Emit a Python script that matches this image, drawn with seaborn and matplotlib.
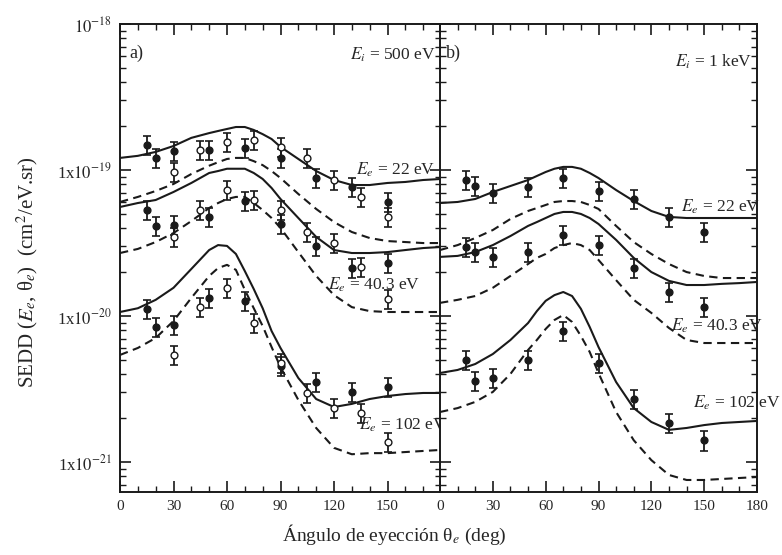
import numpy as np
import matplotlib
matplotlib.use("Agg")
import matplotlib.pyplot as plt
import seaborn as sns
from matplotlib.ticker import FixedLocator, FixedFormatter, MultipleLocator, LogLocator, NullFormatter

# ---------------- data (SEDD in units of 1e-20 cm^2/eV.sr) ----------------
theta_curve = [0, 10, 20, 30, 40, 50, 55, 60, 65, 70, 75, 80, 85, 90,
               100, 110, 120, 130, 140, 150, 160, 170, 180]

# panel a) Ei = 500 eV
a22_solid = [12.1, 12.5, 13.3, 14.6, 16.6, 17.9, 18.5, 19.1, 19.7, 19.7, 18.8, 17.6, 16.3, 14.4,
             11.9, 9.84, 8.54, 7.89, 7.89, 8.15, 8.28, 8.54, 8.68]
a22_dashed = [6.04, 6.54, 7.18, 8.02, 9.39, 10.7, 11.3, 11.9, 12.1, 12.1, 11.5, 10.8, 9.84, 8.81,
              6.85, 5.41, 4.40, 3.76, 3.42, 3.26, 3.21, 3.16, 3.16]
a40_solid = [5.58, 5.94, 6.23, 7.07, 8.15, 9.54, 9.84, 10.2, 10.2, 10.2, 9.54, 8.68, 7.53, 6.33,
             4.69, 3.48, 2.83, 2.70, 2.70, 2.74, 2.83, 2.92, 2.97]
a40_dashed = [2.70, 2.88, 3.21, 3.70, 4.47, 5.49, 5.94, 6.33, 6.54, 6.54, 5.94, 5.32, 4.69, 4.01,
              2.74, 1.88, 1.39, 1.15, 1.08, 1.065, 1.065, 1.065, 1.065]
a102_solid = [1.065, 1.13, 1.29, 1.56, 2.10, 2.83, 3.06, 3.02, 2.66, 2.03, 1.53, 1.13, 0.789, 0.604,
              0.376, 0.270, 0.238, 0.250, 0.270, 0.283, 0.292, 0.297, 0.297]
a102_dashed = [0.541, 0.604, 0.707, 0.924, 1.33, 1.88, 2.13, 2.24, 2.07, 1.51, 1.13, 0.854, 0.613, 0.447,
               0.266, 0.171, 0.125, 0.113, 0.115, 0.115, 0.117, 0.119, 0.121]

# panel b) Ei = 1 keV
b22_solid = [5.94, 6.04, 6.33, 7.07, 7.77, 8.54, 9.10, 9.69, 10.2, 10.5, 10.5, 10.2, 9.54, 8.81,
             7.29, 6.13, 5.24, 4.77, 4.69, 4.69, 4.69, 4.69, 4.69]
b22_dashed = [2.83, 3.06, 3.42, 3.88, 4.62, 5.24, 5.49, 5.76, 6.04, 6.13, 6.13, 6.04, 5.76, 5.41,
              4.14, 3.21, 2.66, 2.27, 2.00, 1.88, 1.82, 1.82, 1.82]
b40_solid = [2.54, 2.58, 2.74, 3.06, 3.53, 4.14, 4.40, 4.69, 5.00, 5.16, 5.16, 5.00, 4.69, 4.27,
             3.32, 2.50, 2.00, 1.74, 1.63, 1.63, 1.66, 1.68, 1.71]
b40_dashed = [1.23, 1.29, 1.37, 1.56, 1.88, 2.27, 2.50, 2.66, 2.92, 3.06, 3.16, 3.06, 2.83, 2.42,
              1.76, 1.29, 1.05, 0.828, 0.685, 0.653, 0.653, 0.653, 0.653]
b102_solid = [0.407, 0.427, 0.469, 0.549, 0.685, 0.895, 1.08, 1.27, 1.39, 1.46, 1.37, 1.12, 0.841, 0.613,
              0.353, 0.234, 0.188, 0.166, 0.171, 0.179, 0.185, 0.188, 0.191]
b102_dashed = [0.220, 0.234, 0.258, 0.302, 0.401, 0.585, 0.685, 0.815, 0.939, 1.016, 0.910, 0.730, 0.567, 0.407,
               0.220, 0.141, 0.103, 0.0815, 0.0753, 0.0753, 0.0765, 0.0777, 0.0789]

# experimental points
theta_filled = [15, 20, 30, 50, 70, 90, 110, 130, 150]
theta_open = [30, 45, 60, 75, 90, 105, 120, 135, 150]

a22_filled = [14.8, 12.1, 13.5, 13.7, 14.2, 12.1, 8.81, 7.65, 6.04]
a22_open = [9.69, 13.7, 15.6, 16.1, 14.4, 12.1, 8.54, 6.54, 4.77]
a40_filled = [5.32, 4.14, 4.20, 4.77, 6.13, 4.27, 3.02, 2.13, 2.31]
a40_open = [3.48, 5.32, 7.29, 6.23, 5.32, 3.76, 3.16, 2.17, 1.31]
a102_filled = [1.12, 0.841, 0.868, 1.33, 1.27, 0.455, 0.353, 0.302, 0.326]
a102_open = [0.541, 1.15, 1.56, 0.895, 0.476, 0.297, 0.234, 0.217, 0.137]

b22_filled = [8.54, 7.77, 6.96, 7.65, 8.81, 7.18, 6.33, 4.77, 3.76]
b40_filled = [2.97, 2.74, 2.54, 2.74, 3.59, 3.06, 2.13, 1.46, 1.15]
b102_filled = [0.500, 0.359, 0.376, 0.500, 0.789, 0.476, 0.270, 0.185, 0.141]

rel_err = 0.15
UNIT = 1e-20

y_ticks = [1e-21, 1e-20, 1e-19, 1e-18]
y_ticklabels = [r"1x$10^{-21}$", r"1x$10^{-20}$", r"1x$10^{-19}$", r"$10^{-18}$"]
xa_ticks = [0, 30, 60, 90, 120, 150]
xb_ticks = [0, 30, 60, 90, 120, 150, 180]

# ---------------- style ----------------
sns.set_theme(style="ticks")
plt.rcParams['font.family'] = ['Liberation Serif', 'DejaVu Serif']
plt.rcParams['mathtext.fontset'] = 'stix'
plt.rcParams['axes.linewidth'] = 1.4

W, H = 782, 555
fig = plt.figure(figsize=(W / 100, H / 100), dpi=100)
fig.patch.set_facecolor('white')
top, bot = 24, 492
axa = fig.add_axes([120 / W, 1 - bot / H, (441 - 120) / W, (bot - top) / H])
axb = fig.add_axes([440 / W, 1 - bot / H, (757 - 440) / W, (bot - top) / H])

DASH = (0, (4, 2.6))


def curve(ax, y, dashed):
    sns.lineplot(x=theta_curve, y=np.array(y) * UNIT, ax=ax, color='k', lw=1.5,
                 linestyle=DASH if dashed else '-', estimator=None, sort=False)


def points(ax, x, y, filled):
    yv = np.array(y) * UNIT
    ax.errorbar(x, yv, yerr=rel_err * yv, fmt='none', ecolor='k', elinewidth=1.3,
                capsize=3, capthick=1.2, zorder=3)
    sns.scatterplot(x=x, y=yv, ax=ax, marker='o', s=24,
                    color='k' if filled else 'white', edgecolor='k',
                    linewidth=1.0, zorder=4)


for y in (a22_solid, a40_solid, a102_solid):
    curve(axa, y, False)
for y in (a22_dashed, a40_dashed, a102_dashed):
    curve(axa, y, True)
for y in (a22_filled, a40_filled, a102_filled):
    points(axa, theta_filled, y, True)
for y in (a22_open, a40_open, a102_open):
    points(axa, theta_open, y, False)

for y in (b22_solid, b40_solid, b102_solid):
    curve(axb, y, False)
for y in (b22_dashed, b40_dashed, b102_dashed):
    curve(axb, y, True)
for y in (b22_filled, b40_filled, b102_filled):
    points(axb, theta_filled, y, True)

for ax, xt in ((axa, xa_ticks), (axb, xb_ticks)):
    ax.set_yscale('log')
    ax.set_xlim(0, 180)
    ax.set_ylim(6.23e-22, 1e-18)
    ax.xaxis.set_major_locator(FixedLocator(xt))
    ax.xaxis.set_minor_locator(MultipleLocator(10))
    ax.yaxis.set_major_locator(FixedLocator(y_ticks))
    ax.yaxis.set_minor_locator(LogLocator(base=10, subs=np.arange(2, 10)))
    ax.yaxis.set_minor_formatter(NullFormatter())
    ax.tick_params(which='both', direction='in', top=True, right=True, color='k')
    ax.tick_params(which='major', length=8, width=1.2, labelsize=11, pad=6)
    ax.tick_params(which='minor', length=4.5, width=1.0)
    ax.tick_params(axis='y', which='major', labelsize=12)
    ax.set_xlabel('')
    ax.set_ylabel('')
    for s in ax.spines.values():
        s.set_color('k')
        s.set_linewidth(1.4)

axa.yaxis.set_major_formatter(FixedFormatter(y_ticklabels))
axb.yaxis.set_major_formatter(NullFormatter())
axa.set_xticklabels([str(t) for t in xa_ticks])
axb.set_xticklabels([str(t) for t in xb_ticks])

fs = 12.5
axa.text(0.028, 0.955, "a)", transform=axa.transAxes, ha='left', va='top', fontsize=13)
axb.text(0.02, 0.955, "b)", transform=axb.transAxes, ha='left', va='top', fontsize=13)
axa.text(0.985, 0.934, r"$E_i$ = 500 eV", transform=axa.transAxes, ha='right', va='center', fontsize=fs)
axb.text(0.985, 0.919, r"$E_i$ = 1 keV", transform=axb.transAxes, ha='right', va='center', fontsize=fs)

axa.text((435 - 120) / 321, 1 - (170 - top) / 468, r"$E_e$ = 22 eV", transform=axa.transAxes,
         ha='right', va='center', fontsize=fs)
axa.text((420 - 120) / 321, 1 - (285 - top) / 468, r"$E_e$ = 40.3 eV", transform=axa.transAxes,
         ha='right', va='center', fontsize=fs)
axa.text((447 - 120) / 321, 1 - (425 - top) / 468, r"$E_e$ = 102 eV", transform=axa.transAxes,
         ha='right', va='center', fontsize=fs, clip_on=False)
axb.text((760 - 440) / 317, 1 - (207 - top) / 468, r"$E_e$ = 22 eV", transform=axb.transAxes,
         ha='right', va='center', fontsize=fs, clip_on=False)
axb.text((763 - 440) / 317, 1 - (326 - top) / 468, r"$E_e$ = 40.3 eV", transform=axb.transAxes,
         ha='right', va='center', fontsize=fs, clip_on=False)
axb.text((781 - 440) / 317, 1 - (403 - top) / 468, r"$E_e$ = 102 eV", transform=axb.transAxes,
         ha='right', va='center', fontsize=fs, clip_on=False)

fig.text(394 / W, 1 - 535 / H, r"Ángulo de eyección θ$_e$ (deg)", ha='center', va='center', fontsize=14)
fig.text(27 / W, 1 - 272 / H, r"SEDD ($E_e$, θ$_e$)  (cm$^2$/eV.sr)", ha='center', va='center',
         rotation=90, fontsize=15)

fig.savefig("out.png", dpi=100, facecolor='white')
